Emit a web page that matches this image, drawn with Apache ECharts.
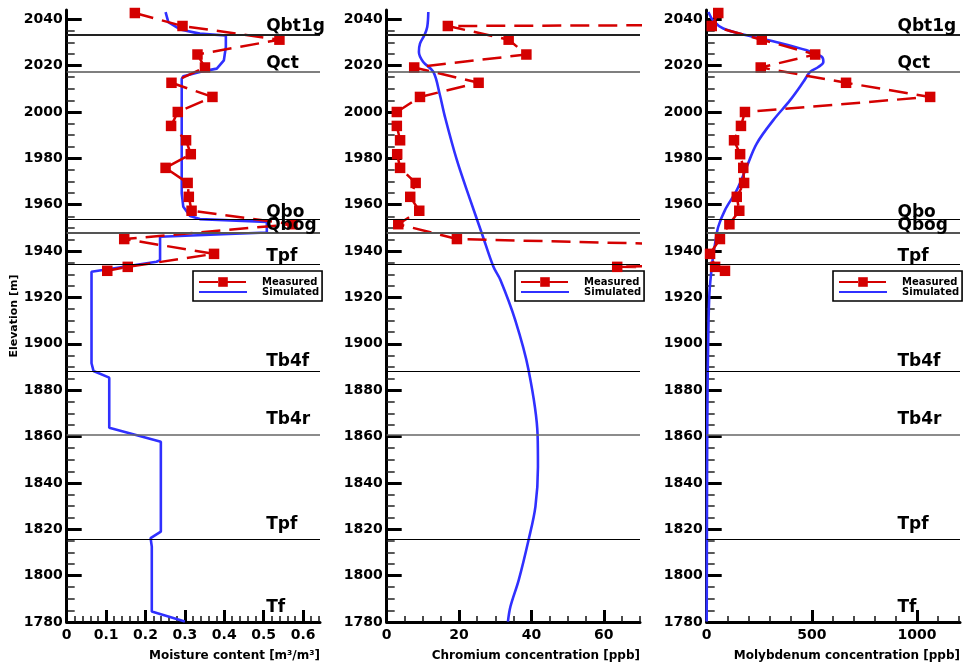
<!DOCTYPE html>
<html><head><meta charset="utf-8">
<script src="https://cdn.jsdelivr.net/npm/echarts@6/dist/echarts.min.js"></script>
<style>html,body{margin:0;padding:0;background:#fff}#c{width:963px;height:669px}</style>
</head><body><div id="c"></div>
<script>
// ---------- data ----------
const elevMeasured = [2042.7, 2037.1, 2031.2, 2024.8, 2019.2, 2012.6, 2006.5, 2000.0, 1994.0, 1987.8, 1981.8, 1975.9, 1969.4, 1963.4, 1957.4, 1951.6, 1945.2, 1938.8, 1933.2, 1931.5];
const moistureMeasured = [0.173, 0.294, 0.540, 0.332, 0.351, 0.266, 0.370, 0.282, 0.265, 0.303, 0.315, 0.251, 0.307, 0.310, 0.317, 0.573, 0.146, 0.374, 0.155, 0.103];
const chromiumMeasured = [1000, 16.9, 33.7, 38.6, 7.6, 25.4, 9.2, 2.8, 2.8, 3.7, 2.9, 3.7, 8.0, 6.5, 9.0, 3.2, 19.4, 190, 63.7, 150];
const molybdenumMeasured = [55, 24, 262, 516, 257, 663, 1063, 182, 163, 130, 159, 174, 178, 143, 155, 108, 63, 16, 40, 87];

const elevSimMoisture = [2043.1, 2038.8, 2035.6, 2033.8, 2033.0, 2028.1, 2022.3, 2018.7, 2017.3, 2015.4, 2014.3, 1964.9, 1959.1, 1955.1, 1953.8, 1952.6, 1948.0, 1946.2, 1936.1, 1935.4, 1931.1, 1891.6, 1888.3, 1885.4, 1863.8, 1857.8, 1819.0, 1816.2, 1812.5, 1784.5, 1780.2];
const moistureSimulated = [0.251, 0.258, 0.288, 0.338, 0.404, 0.404, 0.399, 0.381, 0.338, 0.296, 0.292, 0.292, 0.296, 0.313, 0.338, 0.508, 0.508, 0.237, 0.237, 0.228, 0.063, 0.063, 0.068, 0.108, 0.108, 0.239, 0.239, 0.213, 0.216, 0.216, 0.300];

const elevSimChromium = [2043.1, 2036.7, 2033.1, 2029.5, 2025.9, 2021.6, 2017.3, 2008.0, 1997.9, 1979.2, 1962.0, 1947.6, 1933.2, 1927.6, 1910.3, 1888.7, 1860.7, 1847.0, 1829.8, 1815.4, 1798.2, 1786.7, 1780.2];
const chromiumSimulated = [11.5, 11.2, 10.4, 9.2, 8.9, 10.1, 12.9, 14.6, 16.1, 19.4, 23.1, 26.3, 29.5, 31.4, 35.5, 39.2, 41.7, 41.8, 41.1, 39.2, 36.5, 34.2, 33.5];

const elevSimMolybdenum = [2043.1, 2039.3, 2036.0, 2033.1, 2029.8, 2026.6, 2023.8, 2021.6, 2019.4, 2017.3, 2013.0, 2005.1, 1996.5, 1986.4, 1976.3, 1966.3, 1957.7, 1950.5, 1943.3, 1936.1, 1921.8, 1900, 1880, 1850, 1820, 1780.2];
const molybdenumSimulated = [8, 32, 79, 190, 349, 476, 548, 555, 531, 492, 460, 397, 317, 238, 190, 143, 87, 55, 40, 28, 13, 7, 4, 2, 1, 0];

const formationNames = ['Qbt1g', 'Qct', 'Qbo', 'Qbog', 'Tpf', 'Tb4f', 'Tb4r', 'Tpf', 'Tf'];
const formationLabelElev = [2036.8, 2020.9, 1956.5, 1950.9, 1937.5, 1892.3, 1867.5, 1821.9, 1786.2];
const formationLineElev = [2033.4, 2017.3, 1953.7, 1947.9, 1934.3, 1888.3, 1860.8, 1815.7];

const elevTicks = [1780, 1800, 1820, 1840, 1860, 1880, 1900, 1920, 1940, 1960, 1980, 2000, 2020, 2040];
const moistureTicks = [0, 0.1, 0.2, 0.3, 0.4, 0.5, 0.6];
const chromiumTicks = [0, 20, 40, 60];
const molybdenumTicks = [0, 500, 1000];

const axisTitles = ['Moisture content [m\u00B3/m\u00B3]', 'Chromium concentration [ppb]', 'Molybdenum concentration [ppb]'];
const elevTitle = 'Elevation [m]';

// ---------- layout / style ----------
const F = 'DejaVu Sans';
const RED = '#d40000', BLUE = '#3030ff';
const gridLeft = [66.7, 386.7, 706.7];
const gridW = 253.3, gridTop = 10, gridH = 612;
const xMax = [0.643, 70, 1205];
const xMinorStep = [0.02, 5, 100];
const xTicks = [moistureTicks, chromiumTicks, molybdenumTicks];
const labelX = [0.505, null, 905];
const legendLeft = [193, 515, 833];
const measured = [moistureMeasured, chromiumMeasured, molybdenumMeasured];
const simX = [moistureSimulated, chromiumSimulated, molybdenumSimulated];
const simE = [elevSimMoisture, elevSimChromium, elevSimMolybdenum];

function minors(start, step, max, majors) {
  const out = [];
  for (let k = 1; start + k * step <= max + 1e-9; k++) {
    const v = +(start + k * step).toFixed(6);
    if (!majors.some(m => Math.abs(m - v) < 1e-6)) out.push(v);
  }
  return out;
}
const yMinor = minors(1780, 5, 2044, elevTicks);

const grids = [], xAxes = [], yAxes = [], series = [], legends = [], graphics = [];
const lineStyles = [
  {color: '#222', width: 2}, {color: '#555', width: 1.5}, {color: '#000', width: 1}, {color: '#555', width: 2},
  {color: '#000', width: 1}, {color: '#000', width: 1}, {color: '#666', width: 1.5}, {color: '#000', width: 1}
];

for (let g = 0; g < 3; g++) {
  grids.push({left: gridLeft[g], top: gridTop, width: gridW, height: gridH, outerBoundsMode: 'none', containLabel: false});
  const xm = minors(0, xMinorStep[g], xMax[g], xTicks[g]);
  xAxes.push({
    type: 'value', gridIndex: g, position: 'bottom', min: 0, max: xMax[g],
    splitLine: {show: false},
    axisLine: {show: true, onZero: false, lineStyle: {color: '#000', width: 3}},
    axisTick: {show: true, inside: true, length: 12, customValues: xTicks[g], lineStyle: {color: '#000', width: 3}},
    axisLabel: {show: true, customValues: xTicks[g], margin: 6, color: '#000', fontFamily: F, fontWeight: 'bold', fontSize: 14,
      formatter: v => String(+v.toFixed(3))}
  });
  xAxes.push({
    type: 'value', gridIndex: g, position: 'bottom', min: 0, max: xMax[g],
    splitLine: {show: false}, axisLine: {show: false}, axisLabel: {show: false},
    axisTick: {show: true, inside: true, length: 6, customValues: xm, lineStyle: {color: '#111', width: 1.5}}
  });
  const ymain = {
    type: 'value', gridIndex: g, position: 'left', min: 1780, max: 2044,
    splitLine: {show: false},
    axisLine: {show: true, onZero: false, lineStyle: {color: '#000', width: 3}},
    axisTick: {show: true, inside: true, length: 15, customValues: elevTicks, lineStyle: {color: '#000', width: 3}},
    axisLabel: {show: true, customValues: elevTicks, margin: 4, color: '#000', fontFamily: F, fontWeight: 'bold', fontSize: 14,
      formatter: v => String(v)}
  };
  if (g === 0) {
    Object.assign(ymain, {name: elevTitle, nameLocation: 'middle', nameGap: 44, nameRotate: 90,
      nameTextStyle: {color: '#000', fontFamily: F, fontWeight: 'bold', fontSize: 11}});
  }
  yAxes.push(ymain);
  yAxes.push({
    type: 'value', gridIndex: g, position: 'left', min: 1780, max: 2044,
    splitLine: {show: false}, axisLine: {show: false}, axisLabel: {show: false},
    axisTick: {show: true, inside: true, length: 8, customValues: yMinor, lineStyle: {color: '#222', width: 1.5}}
  });

  series.push({
    type: 'line', name: 'Simulated', xAxisIndex: 2 * g, yAxisIndex: 2 * g,
    data: simX[g].map((v, i) => [v, simE[g][i]]),
    symbol: 'none', smooth: g === 0 ? false : 0.35, clip: true, z: 3,
    lineStyle: {color: BLUE, width: 2.6}, itemStyle: {color: BLUE},
    markLine: {
      silent: true, symbol: 'none', label: {show: false}, emphasis: {disabled: true},
      lineStyle: {type: 'solid', color: '#000', width: 1},
      data: formationLineElev.map((e, i) => ({yAxis: e, lineStyle: Object.assign({type: 'solid'}, lineStyles[i])}))
    }
  });
  series.push({
    type: 'line', name: 'Measured', xAxisIndex: 2 * g, yAxisIndex: 2 * g,
    data: measured[g].map((v, i) => [v, elevMeasured[i]]),
    symbol: 'rect', symbolSize: 10.5, showAllSymbol: true, clip: true, z: 4,
    lineStyle: {color: RED, width: 2.5, type: [19, 9]}, itemStyle: {color: RED}
  });
  if (labelX[g] !== null) {
    series.push({
      type: 'scatter', name: 'formations', xAxisIndex: 2 * g, yAxisIndex: 2 * g, silent: true, z: 5,
      data: formationNames.map((n, i) => [labelX[g], formationLabelElev[i], n]),
      symbolSize: 1, itemStyle: {color: 'rgba(0,0,0,0)', opacity: 1},
      label: {show: true, position: 'right', distance: 0, formatter: p => p.data[2], opacity: 1,
        color: '#000', fontFamily: F, fontWeight: 'bold', fontSize: 17, textBorderWidth: 0}
    });
  }
  legends.push({
    show: true, orient: 'vertical', left: legendLeft[g], top: 271,
    data: [{name: 'Measured'}, {name: 'Simulated', itemStyle: {opacity: 0}}],
    itemWidth: 48, itemHeight: 12, itemGap: 0, padding: [6, 3, 4, 5],
    backgroundColor: '#fff', borderColor: '#000', borderWidth: 1.6, borderRadius: 0,
    selectedMode: false,
    textStyle: {color: '#000', fontFamily: F, fontWeight: 'bold', fontSize: 10, padding: [0, 0, 0, 10]}
  });
  graphics.push({
    type: 'text', x: gridLeft[g] + gridW, y: 656, silent: true,
    style: {text: axisTitles[g], fill: '#000', font: 'bold 12px "DejaVu Sans"',
      textAlign: 'right', align: 'right', textVerticalAlign: 'middle', verticalAlign: 'middle'}
  });
}

const chart = echarts.init(document.getElementById('c'), null, {renderer: 'canvas'});
chart.setOption({
  animation: false,
  backgroundColor: '#fff',
  grid: grids, xAxis: xAxes, yAxis: yAxes, series: series, legend: legends, graphic: graphics
});
</script></body></html>
